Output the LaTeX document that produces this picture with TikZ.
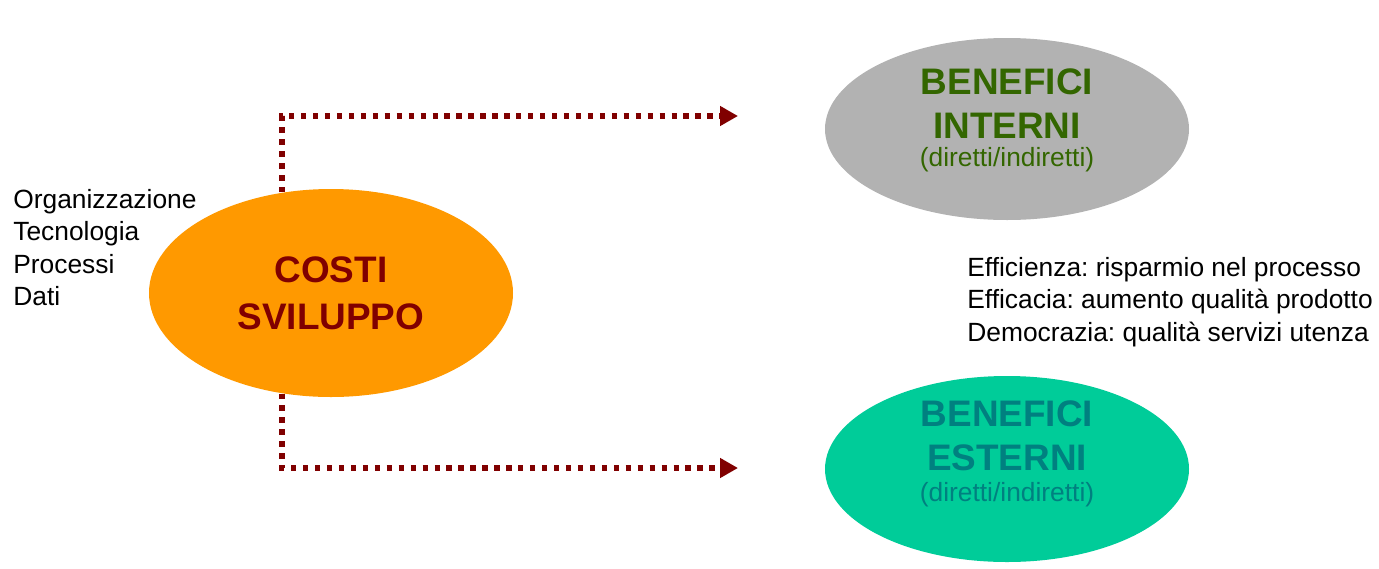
\documentclass[tikz,border=0pt]{standalone}
\usepackage{fontspec}
\setmainfont{Liberation Sans}
\usetikzlibrary{shapes.geometric,arrows.meta}
\frenchspacing

\definecolor{costiorange}{RGB}{255,153,0}
\definecolor{costired}{RGB}{128,0,0}
\definecolor{intgray}{RGB}{178,178,178}
\definecolor{intgreen}{RGB}{51,102,0}
\definecolor{estgreen}{RGB}{0,204,153}
\definecolor{estteal}{RGB}{0,128,128}

\begin{document}
\begin{tikzpicture}[
    blob/.style={ellipse, inner sep=0pt, minimum width=7.28cm},
    title/.style={font=\bfseries\fontsize{21}{25}\selectfont, align=center},
    flow/.style={draw=costired, line width=3pt, dash pattern=on 3pt off 3.8pt,
        -{Triangle[length=0.36cm,width=0.38cm]}},
    notes/.style={font=\fontsize{15}{18.4}\selectfont, align=left, inner sep=0pt}]
	  \useasboundingbox (0,0) rectangle (27.58,11.36);
	  % Draw the three ellipses
	  \node (costi) [blob, fill=costiorange, minimum height=4.16cm, text=costired,
	      font=\bfseries\fontsize{21}{26.7}\selectfont, align=center]
	      at (6.62,5.50) {COSTI\\SVILUPPO};
	  \node (interni) [blob, fill=intgray, minimum height=3.64cm,
	      label={[title, text=intgreen, yshift=0.17cm]center:{BENEFICI\\INTERNI\\[-9pt]{\mdseries\fontsize{15}{18}\selectfont(diretti/indiretti)}}}]
	      at (20.14,8.78) {};
	  \node (esterni) [blob, fill=estgreen, minimum height=3.72cm,
	      label={[title, text=estteal, yshift=0.3cm]center:{BENEFICI\\ESTERNI\\[-7.5pt]{\mdseries\fontsize{15}{18}\selectfont(diretti/indiretti)}}}]
	      at (20.14,1.98) {};
	  % Side notes
	  \node (fattori) [notes, anchor=north west] at (0.26,7.58)
	      {Organizzazione\\Tecnologia\\Processi\\Dati};
	  \node (effetti) [notes, anchor=north west] at (19.34,6.22)
	      {Efficienza: risparmio nel processo\\Efficacia: aumento qualità prodotto\\Democrazia: qualità servizi utenza};
	  % Dotted arrows towards the benefits
	  \coordinate (toint) at (14.76,9.04);
	  \coordinate (toest) at (14.76,2.0);
	  \draw [flow] (costi.116) |- (toint);
	  \draw [flow] (costi.-116) |- (toest);
\end{tikzpicture}
\end{document}
